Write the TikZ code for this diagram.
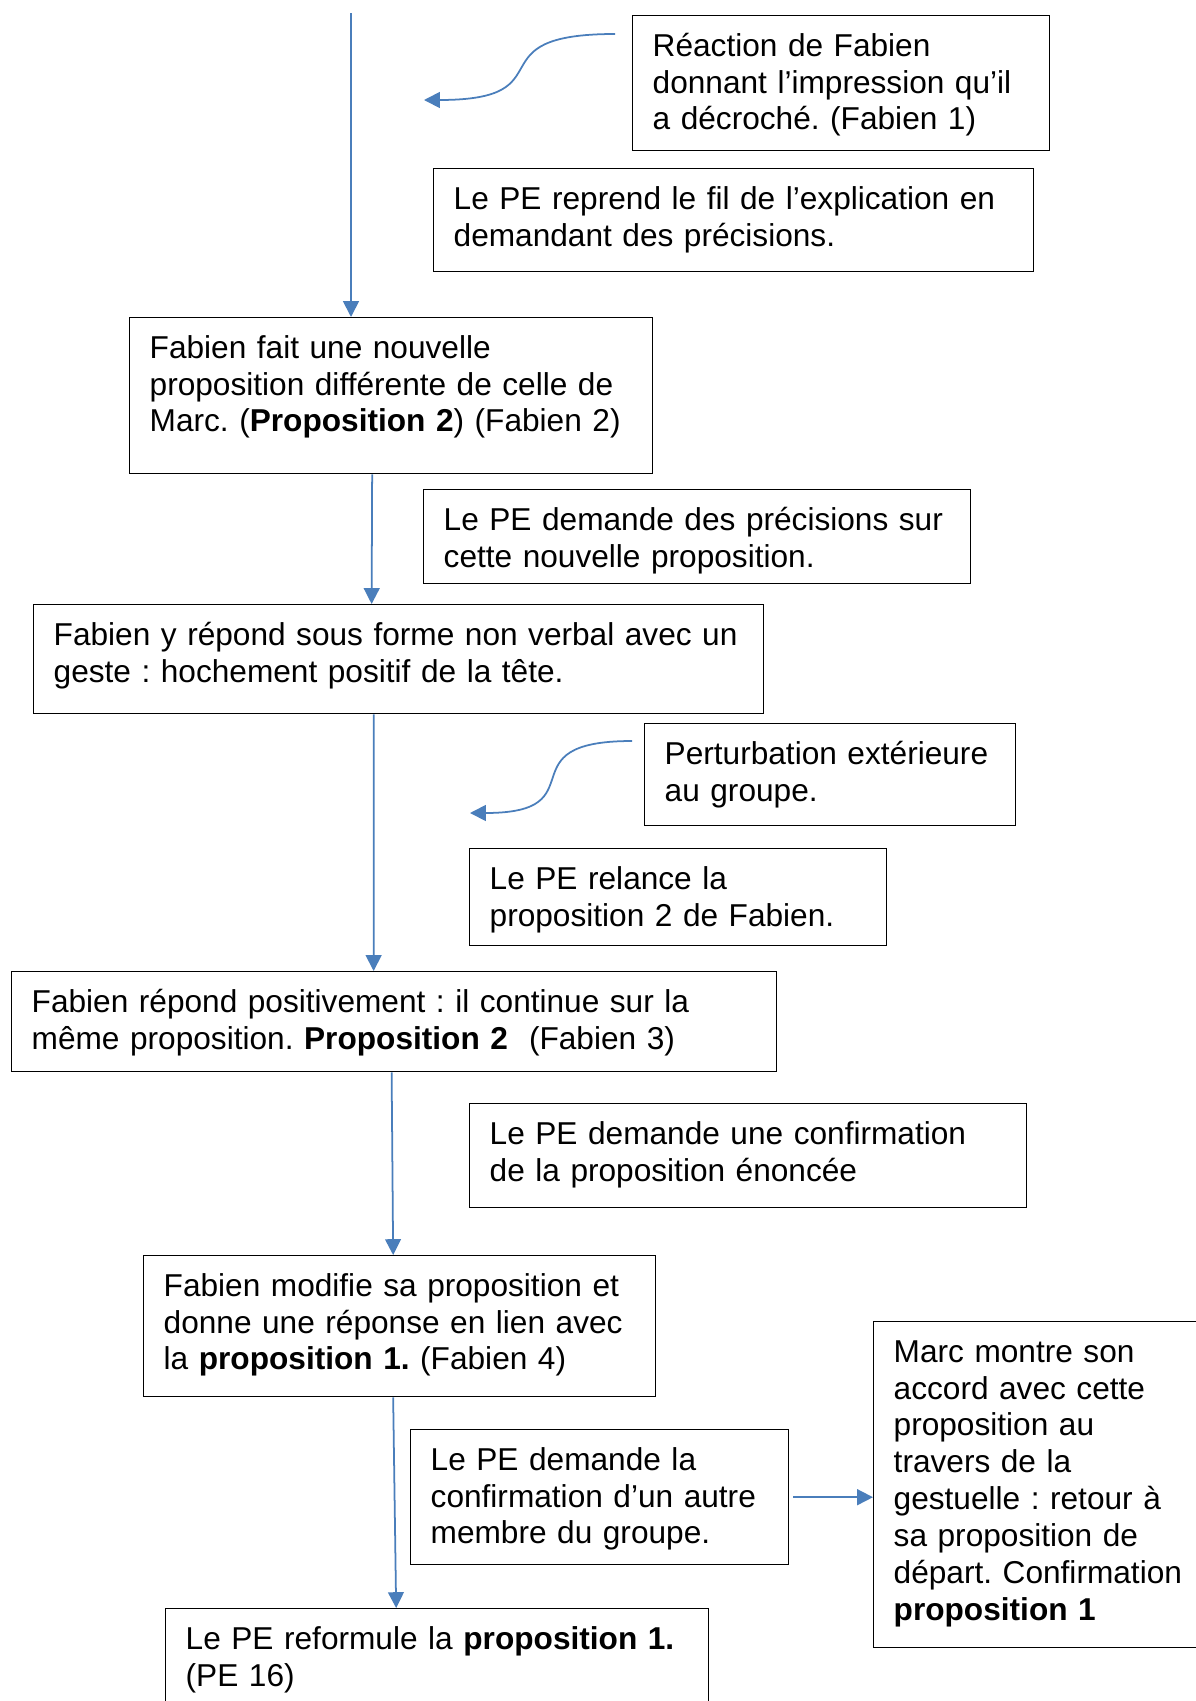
\documentclass[tikz,border=0pt]{standalone}
\usepackage{fontspec}
\setmainfont{Liberation Sans}
\frenchspacing
\usepackage{tikz}
\usetikzlibrary{calc}
\usetikzlibrary{arrows.meta}
\usetikzlibrary{positioning}
\definecolor{flechebleu}{RGB}{74,126,187}
\tikzset{
	every node/.style={font=\fontsize{18}{21}\selectfont},
	etape/.style={
		draw,
		rectangle,
		anchor=north west,
		align=left,
		line width=0.8pt,
		inner xsep=0.4cm,
		inner ysep=0pt,
		text height=23pt,
		text depth=#1-23pt,
	},
	fleche/.style={
		draw=flechebleu,
		line width=1pt,
		-{Triangle[length=9pt,width=9pt]}
	},
	courbe/.style={
		fleche,
	},
}

\begin{document}
\begin{tikzpicture}[x=0.02cm,y=-0.02cm]
		\useasboundingbox (0,0) rectangle (1196,1701);

		\node[etape=2.7cm, text width=7.54cm] 	(reaction) at (632,15) {Réaction de Fabien\\donnant l’impression qu’il\\a décroché. (Fabien 1)};
		\node[etape=2.06cm, text width=11.2cm] 	(reprend) at (433,168) {Le PE reprend le fil de l’explication en\\demandant des précisions.};
		\node[etape=3.12cm, text width=9.66cm] 	(prop2) at (129,317) {Fabien fait une nouvelle\\proposition différente de celle de\\Marc. (\textbf{Proposition 2}) (Fabien 2)};
		\node[etape=1.88cm, text width=10.14cm] (precisions) at (423,489) {Le PE demande des précisions sur\\cette nouvelle proposition.};
		\node[etape=2.18cm, text width=13.8cm] 	(geste) at (33,604) {Fabien y répond sous forme non verbal avec un\\geste : hochement positif de la tête.};
		\node[etape=2.04cm, text width=6.62cm] 	(perturb) at (644,723) {Perturbation extérieure\\au groupe.};
		\node[etape=1.94cm, text width=7.54cm] 	(relance) at (469,848) {Le PE relance la\\proposition 2 de Fabien.};
		\node[etape=2cm, text width=14.5cm] 		(positif) at (11,971) {Fabien répond positivement : il continue sur la\\même proposition. \textbf{Proposition 2}\ \ (Fabien 3)};
		\node[etape=2.08cm, text width=10.34cm] (confirm) at (469,1103) {Le PE demande une confirmation\\de la proposition énoncée};
		\node[etape=2.82cm, text width=9.44cm] 	(modifie) at (143,1255) {Fabien modifie sa proposition et\\donne une réponse en lien avec\\la \textbf{proposition 1.} (Fabien 4)};
		\node[etape=2.7cm, text width=6.76cm] 	(autre) at (410,1429) {Le PE demande la\\confirmation d’un autre\\membre du groupe.};
		\node[etape=6.52cm, text width=6.04cm] 	(marc) at (873,1321) {Marc montre son\\accord avec cette\\proposition au\\travers de la\\gestuelle : retour à\\sa proposition de\\départ. Confirmation\\\textbf{proposition 1}};
		\node[etape=2.64cm, text width=10.06cm] (reformule) at (165,1608) {Le PE reformule la \textbf{proposition 1.}\\(PE 16)};

		\coordinate (debut) at (351,13);
		\coordinate (decroche) at (424,100);
		\coordinate (derange) at (470,813);

		\draw[fleche] 			(debut) -- (debut |- prop2.north);
		\draw[fleche] 			([xshift=-0.38cm]prop2.south) -- ([xshift=-0.54cm]geste.north);
		\draw[fleche] 			([xshift=-0.5cm]geste.south) -- ([xshift=-0.41cm]positif.north);
		\draw[fleche] 			([xshift=-0.05cm]positif.south) -- ([xshift=-0.13cm]modifie.north);
		\draw[fleche] 			([xshift=-0.13cm]modifie.south) -- ([xshift=-0.82cm]reformule.north);
		\draw[fleche] 			([xshift=0.08cm]autre.east) -- (autre.east -| marc.west);

		\draw[courbe] 			([xshift=-0.34cm,yshift=-0.38cm]reaction.north west) .. controls +(-145,0) and +(146,0) .. (decroche);
		\draw[courbe] 			([xshift=-0.24cm,yshift=-0.36cm]perturb.north west) .. controls +(-130,0) and +(130,0) .. (derange);

	\end{tikzpicture}
\end{document}
